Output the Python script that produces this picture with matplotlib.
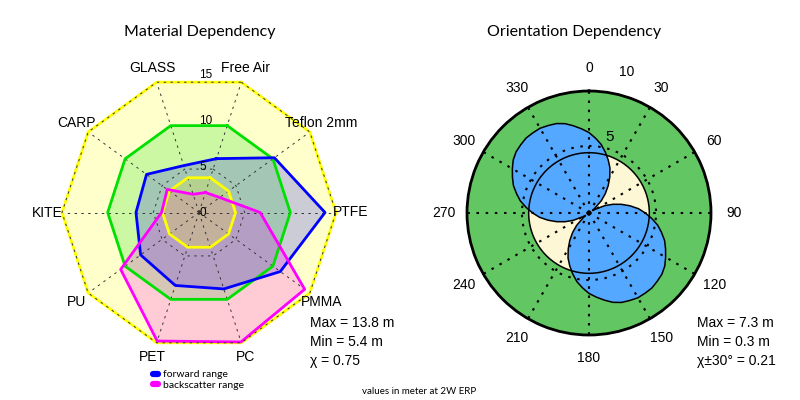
import numpy as np
import matplotlib
matplotlib.use("Agg")
import matplotlib.pyplot as plt
from matplotlib.lines import Line2D

# ---------------- data: Material Dependency (radar) ----------------
categories = ["Free Air", "Teflon 2mm", "PTFE", "PMMA", "PC",
              "PET", "PU", "KITE", "CARP", "GLASS"]
forward_range = [6.2, 10.2, 13.8, 11.0, 8.8, 8.4, 7.9, 6.9, 7.1, 5.4]
backscatter_range = [2.3, 2.8, 6.7, 14.3, 14.9, 14.8, 10.6, 4.1, 4.3, 2.1]
ring_levels = [15, 10, 4]
ring_colors = ["#ffff00", "#00e000", "#ffff00"]
radial_ticks = [0, 5, 10, 15]
grid_levels = [5, 10, 15]
series_names = ["forward range", "backscatter range"]
series_colors = ["#0000ff", "#ff00ff"]
material_stats = ["Max = 13.8 m", "Min = 5.4 m", "\u03c7 = 0.75"]

# ---------------- data: Orientation Dependency (polar) ----------------
orient_angles_deg = list(range(0, 360, 5))
orient_forward = [6.0, 5.6, 5.2, 4.7, 4.2, 3.7, 3.1, 2.5, 1.9, 1.3, 0.6, 0.3,
                  0.6, 1.3, 1.9, 2.5, 3.1, 3.7, 4.2, 4.7, 5.2, 5.6, 6.0, 6.3,
                  6.6, 6.9, 7.1, 7.2, 7.3, 7.3, 7.3, 7.2, 7.1, 6.9, 6.6, 6.3,
                  6.0, 5.6, 5.2, 4.7, 4.2, 3.7, 3.1, 2.5, 1.9, 1.3, 0.6, 0.3,
                  0.6, 1.3, 1.9, 2.5, 3.1, 3.7, 4.2, 4.7, 5.2, 5.6, 6.0, 6.3,
                  6.6, 6.9, 7.1, 7.2, 7.3, 7.3, 7.3, 7.2, 7.1, 6.9, 6.6, 6.3]
omni_range = 4.5
outer_range = 9.1
orient_ticks_deg = list(range(0, 360, 30))
orient_radial_ticks = [5, 10]
orientation_stats = ["Max = 7.3 m", "Min = 0.3 m", "\u03c7\u00b130\u00b0 = 0.21"]
note_text = "values in meter at 2W ERP"

ARIAL = "Liberation Sans"
MYRIAD = "Lato"

fig = plt.figure(figsize=(8, 4), dpi=100)
fig.patch.set_facecolor("white")

# ======================= left: radar chart =======================
ax1 = fig.add_axes([0.0775, 0.12625, 0.3425, 0.685], projection="polar")
ax1.set_theta_zero_location("N")
ax1.set_theta_direction(-1)
ax1.set_ylim(0, 15)
ax1.axis("off")

n = len(categories)
theta = np.deg2rad(18 + 36 * np.arange(n))
theta_c = np.append(theta, theta[0])


def closed(vals):
    vals = np.asarray(vals, dtype=float)
    return np.append(vals, vals[0])


def ring(level):
    return closed(np.full(n, float(level)))


LW = 2.0
# big rings (15, 10)
for lvl, col in zip(ring_levels[:2], ring_colors[:2]):
    ax1.fill(theta_c, ring(lvl), color=col, alpha=0.2, lw=0, zorder=1)
# data series
for vals, col in zip([forward_range, backscatter_range], series_colors):
    ax1.fill(theta_c, closed(vals), color=col, alpha=0.2, lw=0, zorder=1)
# small ring
ax1.fill(theta_c, ring(ring_levels[2]), color=ring_colors[2], alpha=0.2, lw=0, zorder=1)

for lvl, col in zip(ring_levels, ring_colors):
    ax1.plot(theta_c, ring(lvl), color=col, lw=LW, zorder=3, clip_on=False)
for vals, col in zip([forward_range, backscatter_range], series_colors):
    ax1.plot(theta_c, closed(vals), color=col, lw=LW, zorder=3, clip_on=False)

# dotted grid (below the coloured outlines, except the outermost ring)
gstyle = dict(color="#333333", lw=0.7, linestyle=(0, (2.5, 4.5)), clip_on=False)
for lvl in grid_levels:
    ax1.plot(theta_c, ring(lvl), zorder=4 if lvl == max(grid_levels) else 2, **gstyle)
for t in theta:
    ax1.plot([t, t], [0, 15], zorder=2, **gstyle)

for t, lab in zip(theta, categories):
    ax1.text(t, 16.6, lab, ha="center", va="center", fontsize=10,
             family=ARIAL, clip_on=False)
for rt in radial_ticks:
    ax1.text(0, rt, str(rt), ha="left", va="center", fontsize=8.5,
             family=ARIAL, zorder=5, clip_on=False)

handles = [Line2D([0], [0], color=c, lw=4.5, solid_capstyle="round")
           for c in series_colors]
fig.legend(handles, series_names, loc="upper left",
           bbox_to_anchor=(153 / 800, 1 - 370 / 400), frameon=False,
           prop={"family": MYRIAD, "size": 7.5}, handlelength=0.5,
           handletextpad=0.45, labelspacing=0.1, borderpad=0, borderaxespad=0)

for i, s in enumerate(material_stats):
    fig.text(310 / 800, 1 - (323 + 19 * i) / 400, s, ha="left", va="center",
             fontsize=10, family=ARIAL)

# ======================= right: polar chart =======================
ax2 = fig.add_axes([0.58375, 0.1625, 0.305, 0.61], projection="polar")
ax2.set_theta_zero_location("N")
ax2.set_theta_direction(-1)
ax2.set_ylim(0, outer_range)
ax2.set_facecolor("#62c762")
ax2.spines["polar"].set_linewidth(2.0)
ax2.spines["polar"].set_color("black")
ax2.set_xticks(np.deg2rad(orient_ticks_deg))
ax2.set_xticklabels([])
ax2.set_yticks([orient_radial_ticks[0]])
ax2.set_yticklabels([])
ax2.set_axisbelow(False)
ax2.grid(True, color="black", linestyle=(0, (1.2, 3.2)), linewidth=1.5)

circ_t = np.linspace(0, 2 * np.pi, 361)
ax2.fill(circ_t, np.full_like(circ_t, omni_range), color="#fdf7d5", lw=0, zorder=1)
th2 = np.deg2rad(orient_angles_deg)
ax2.fill(np.append(th2, th2[0]), closed(orient_forward), facecolor="#55a8ff",
         edgecolor="black", lw=1.1, zorder=1.5)
ax2.plot(circ_t, np.full_like(circ_t, omni_range), color="black", lw=1.1, zorder=2.2)

for a in orient_ticks_deg:
    ax2.text(np.deg2rad(a), 10.8, str(a), ha="center", va="center",
             fontsize=10, family=ARIAL, clip_on=False)
for rt in orient_radial_ticks:
    ax2.text(np.deg2rad(15), rt + 0.9, str(rt), ha="center", va="center",
             fontsize=10 if rt > 5 else 11, family=ARIAL, clip_on=False, zorder=6)

for i, s in enumerate(orientation_stats):
    fig.text(697 / 800, 1 - (323 + 19 * i) / 400, s, ha="left", va="center",
             fontsize=10, family=ARIAL)

# titles and note
fig.text(200 / 800, 1 - 32 / 400, "Material Dependency", ha="center", va="center",
         fontsize=11.5, family=MYRIAD)
fig.text(574 / 800, 1 - 32 / 400, "Orientation Dependency", ha="center", va="center",
         fontsize=11.5, family=MYRIAD)
fig.text(362 / 800, 1 - 391 / 400, note_text, ha="left", va="center",
         fontsize=7, family=MYRIAD)

fig.savefig("out.png", dpi=100, facecolor="white")
